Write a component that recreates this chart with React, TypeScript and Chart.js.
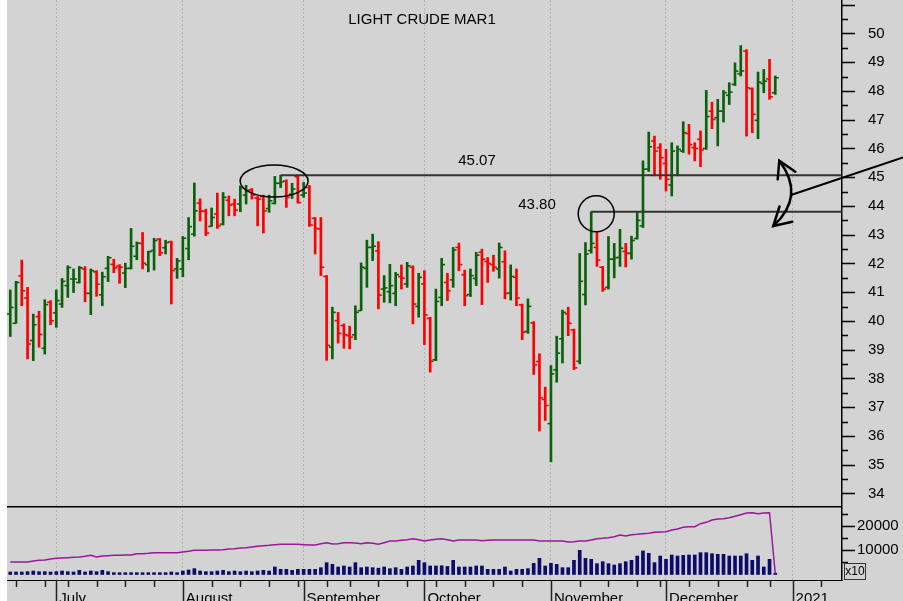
import React, { useEffect, useRef } from 'react';
import { Chart, registerables } from 'chart.js';

Chart.register(...registerables);

// ---------- data (trading-day index 0 = 19 Jun 2020 ... 133 = 29 Dec 2020) ----------
const opens = [
  40.24, 39.92, 41.57, 40.80, 39.32, 40.15, 39.05, 40.65, 40.28, 40.59,
  41.23, 41.46, 41.34, 41.81, 40.96, 41.71, 40.91, 41.83, 41.97, 41.91,
  41.67, 41.83, 42.25, 42.70, 41.96, 42.45, 42.85, 42.55, 42.75, 41.81,
  41.81, 42.52, 43.02, 44.10, 43.82, 43.29, 43.72, 43.37, 44.20, 44.07,
  44.07, 44.38, 44.56, 44.28, 44.33, 43.91, 44.09, 44.79, 44.87, 44.41,
  45.02, 44.38, 44.64, 43.57, 43.20, 41.55, 39.09, 40.01, 39.84, 39.49,
  39.52, 40.36, 41.83, 42.56, 42.44, 41.11, 41.02, 40.96, 41.54, 41.29,
  41.87, 40.51, 41.29, 40.09, 38.65, 40.82, 41.34, 41.43, 42.56, 41.61,
  40.92, 41.48, 42.39, 42.07, 41.96, 41.81, 42.06, 40.97, 41.52, 40.56,
  39.64, 39.93, 38.59, 37.27, 36.43, 38.30, 39.38, 40.25, 39.69, 38.60,
  40.92, 42.45, 42.56, 41.87, 41.17, 42.15, 42.21, 42.42, 42.35, 42.87,
  43.31, 45.28, 46.26, 46.03, 45.48, 44.73, 45.07, 45.91, 46.52, 46.03,
  46.32, 46.00, 47.30, 47.07, 47.30, 47.85, 48.23, 48.60, 49.39, 48.08,
  46.98, 48.26, 48.42, 47.94,
];
const highs = [
  41.08, 41.38, 42.12, 41.17, 40.24, 40.34, 40.74, 40.71, 41.08, 41.48,
  41.92, 41.81, 41.90, 41.89, 41.81, 41.75, 41.70, 42.25, 42.15, 41.96,
  42.01, 43.22, 42.75, 43.08, 42.43, 42.88, 42.87, 42.81, 42.78, 42.18,
  42.94, 43.60, 44.80, 44.25, 43.89, 43.93, 44.45, 44.47, 44.35, 44.24,
  44.70, 44.72, 44.61, 44.33, 44.38, 44.38, 45.03, 45.07, 44.91, 44.79,
  45.04, 44.82, 44.72, 43.60, 43.60, 41.58, 40.48, 40.30, 39.90, 39.82,
  40.53, 42.02, 42.81, 43.02, 42.76, 41.58, 41.97, 41.69, 41.95, 42.04,
  41.92, 41.66, 41.75, 40.13, 41.11, 42.18, 41.66, 42.56, 42.71, 41.77,
  41.81, 42.39, 42.50, 42.21, 42.29, 42.71, 42.44, 41.95, 41.81, 40.59,
  40.77, 39.98, 38.86, 37.70, 38.45, 39.47, 40.38, 40.48, 39.72, 42.35,
  42.73, 43.80, 43.08, 41.90, 42.94, 42.70, 43.19, 42.70, 42.95, 43.81,
  45.57, 46.57, 46.43, 46.17, 45.97, 46.20, 46.09, 46.93, 46.84, 46.20,
  46.61, 48.02, 47.61, 47.71, 48.02, 48.29, 48.98, 49.58, 49.44, 48.11,
  48.66, 48.75, 49.10, 48.52,
];
const lows = [
  39.46, 39.92, 40.53, 38.68, 38.62, 39.09, 38.85, 39.87, 39.78, 40.47,
  40.82, 40.99, 41.32, 40.67, 40.22, 40.86, 40.53, 41.37, 41.68, 41.31,
  41.16, 41.81, 42.13, 41.81, 41.71, 41.77, 42.27, 42.33, 40.59, 41.48,
  41.54, 42.13, 42.95, 43.48, 42.97, 43.29, 43.22, 43.34, 43.66, 43.66,
  43.80, 44.07, 44.24, 43.31, 43.06, 43.78, 44.07, 44.64, 43.95, 44.26,
  44.10, 44.30, 43.29, 42.33, 41.58, 38.63, 38.68, 39.23, 39.05, 39.03,
  39.35, 40.36, 41.17, 42.10, 40.42, 40.65, 40.63, 40.53, 41.11, 41.17,
  39.90, 40.13, 39.18, 38.22, 38.62, 40.53, 40.71, 41.17, 41.75, 40.53,
  40.85, 41.23, 40.57, 41.34, 41.73, 41.49, 40.77, 40.73, 40.53, 39.35,
  39.57, 38.14, 36.17, 36.54, 35.10, 37.87, 38.54, 39.49, 38.31, 38.51,
  40.56, 42.36, 41.90, 41.03, 41.11, 41.50, 41.90, 41.88, 42.15, 42.85,
  43.25, 45.20, 45.05, 44.93, 44.52, 44.35, 45.05, 45.86, 45.80, 45.57,
  45.37, 45.97, 46.69, 46.09, 46.92, 47.53, 48.19, 48.52, 46.43, 46.55,
  46.34, 47.94, 47.71, 47.88,
];
const closes = [
  40.47, 41.34, 41.05, 39.20, 39.87, 39.53, 40.57, 40.01, 40.71, 41.38,
  41.86, 41.46, 41.85, 40.96, 41.75, 41.28, 41.54, 42.20, 41.85, 41.87,
  41.83, 42.60, 42.71, 42.01, 42.41, 42.80, 42.37, 42.73, 41.75, 42.09,
  42.88, 43.28, 43.83, 43.82, 43.06, 43.60, 43.31, 44.30, 44.03, 43.86,
  44.64, 44.53, 44.38, 44.24, 43.83, 44.18, 44.79, 44.84, 44.30, 44.59,
  44.12, 44.45, 43.34, 43.22, 41.87, 39.15, 40.30, 39.57, 39.52, 39.44,
  40.30, 41.87, 42.56, 42.60, 40.90, 41.15, 41.23, 41.61, 41.49, 41.92,
  40.59, 41.52, 40.21, 38.60, 40.68, 41.96, 41.05, 42.47, 41.96, 40.88,
  41.58, 42.29, 42.15, 42.00, 41.87, 42.56, 40.96, 41.55, 40.80, 39.61,
  40.51, 38.47, 37.33, 37.06, 38.16, 38.88, 40.30, 39.92, 38.37, 41.38,
  42.33, 42.70, 42.12, 41.11, 42.15, 42.20, 42.53, 42.36, 42.80, 43.50,
  45.28, 46.06, 45.91, 45.68, 44.93, 45.91, 45.97, 46.55, 46.14, 46.00,
  45.95, 47.11, 47.01, 47.30, 47.94, 47.96, 48.69, 48.70, 48.11, 47.19,
  48.31, 48.34, 47.80, 48.46,
];
const volumes = [
  1030, 1030, 1030, 1165, 1440, 1165, 1165, 1030, 1165, 1440,
  1165, 1030, 1715, 1030, 1440, 1165, 1715, 1165, 750, 750,
  750, 750, 750, 750, 750, 750, 750, 750, 1030, 750,
  1440, 1850, 2400, 1440, 1165, 1165, 1440, 1715, 1165, 1440,
  1165, 1440, 1165, 1440, 1715, 1440, 3085, 2125, 2125, 1715,
  2125, 2125, 2125, 2125, 2810, 4870, 4180, 3085, 3500, 3085,
  4870, 2810, 3085, 2810, 2600, 3085, 2400, 2810, 2125, 3085,
  3500, 5830, 4870, 3500, 3500, 3600, 3300, 5830, 3085, 3085,
  3085, 3500, 3500, 2125, 2125, 2125, 3085, 1440, 2125, 2125,
  2400, 4600, 6650, 3500, 4600, 4180, 2810, 2810, 5830, 9945,
  6650, 6240, 4460, 5280, 4460, 3900, 4460, 5280, 5830, 7610,
  9670, 8710, 4870, 7610, 6240, 8025, 7610, 7890, 8025, 8025,
  8985, 8985, 8570, 8300, 8300, 7610, 7610, 7610, 8570, 5830,
  7610, 3085, 6240, 500,
];
const openInterest = [
  5140, 5140, 5140, 5140, 5555, 5830, 5970, 6380, 6650, 6790,
  6930, 7070, 7200, 7475, 7890, 7200, 7610, 7750, 7890, 7890,
  8025, 8025, 8570, 8570, 8710, 8985, 8985, 8985, 8985, 8985,
  9260, 9530, 9945, 9945, 9945, 10080, 10080, 10220, 10490, 10630,
  10900, 11040, 11310, 11590, 11860, 12000, 12280, 12415, 12415, 12415,
  12415, 12280, 12140, 12140, 12690, 13100, 12550, 12690, 13100, 13100,
  12960, 12690, 13100, 12830, 12415, 13100, 13785, 13785, 14060, 14330,
  14745, 14330, 13785, 14200, 14470, 14745, 14330, 13785, 14200, 14200,
  14200, 14200, 13920, 14060, 14200, 14200, 14200, 14200, 14200, 14200,
  14200, 14200, 13785, 13785, 13785, 13785, 13785, 13370, 13510, 13785,
  13785, 14200, 14745, 14880, 15155, 15570, 16255, 15840, 16390, 16530,
  16800, 16940, 17350, 17490, 17625, 18320, 18730, 19410, 19680, 19680,
  20915, 21460, 22420, 22840, 22975, 23390, 23940, 24620, 25300, 25445,
  25030, 25300, 25445, 330,
];

const monthTickIdx = [8, 30, 51, 72, 94, 114, 136];
const monthLabels = ['July', 'August', 'September', 'October', 'November', 'December', '2021'];
const weekTickIdx = [1, 6, 10, 15, 20, 25, 30, 35, 40, 45, 50, 55, 59, 64, 69, 74, 79, 84, 89, 94, 99, 104, 109, 113, 118, 123, 128, 132, 136, 141];
const priceTicks = [34, 35, 36, 37, 38, 39, 40, 41, 42, 43, 44, 45, 46, 47, 48, 49, 50];
const priceMajorMarks = [34, 35, 36, 37, 38, 39, 40, 41, 42, 43, 44, 45, 46, 47, 48, 49, 50, 51];
const priceMinorMarks = [34.5, 35.5, 36.5, 37.5, 38.5, 39.5, 40.5, 41.5, 42.5, 43.5, 44.5, 45.5, 46.5, 47.5, 48.5, 49.5, 50.5];
const volumeTicks = [10000, 20000];
const volumeMinorMarks = [5000, 15000, 25000];

const titleText = 'LIGHT CRUDE MAR1';
const markedHigh = 45.07;
const markedHighIdx = 47;
const markedLow = 43.8;
const markedLowIdx = 101;

// ---------- styling ----------
const X_MIN = -0.57;
const X_MAX = 144.6;
const PRICE_MIN = 33.565;
const PRICE_MAX = 51.165;
const VOL_MIN = -2263;
const VOL_MAX = 28190;

const BG = '#d3d3d3';
const UP = '#0b610b';
const DOWN = '#ff0000';
const VOL_COLOR = '#0b0b6b';
const OI_COLOR = '#9b179b';
const GRID = '#b2b2b2';
const FONT = "'Liberation Sans', Arial, Helvetica, sans-serif";

const W = 903;
const H = 601;
const PRICE_H = 506;
const VOL_H = 95;
const LEFT = 7;
const AXIS_W = 61;

Chart.defaults.font.family = FONT;
Chart.defaults.color = '#000';

function fitY(s: any) {
  s.width = AXIS_W;
  s.paddingTop = 0;
  s.paddingBottom = 0;
}

const pricePlugin = {
  id: 'priceDeco',
  beforeDraw(chart: any) {
    const { ctx, width, height } = chart;
    ctx.save();
    ctx.fillStyle = BG;
    ctx.fillRect(LEFT, 0, width - LEFT, height);
    ctx.restore();
  },
  afterDraw(chart: any) {
    const { ctx, chartArea } = chart;
    const xs = chart.scales.x;
    const ys = chart.scales.y;
    const r = chartArea.right;
    ctx.save();
    // right axis tick marks
    ctx.strokeStyle = '#000';
    ctx.lineWidth = 1.5;
    ctx.beginPath();
    priceMajorMarks.forEach((v) => {
      const y = Math.round(ys.getPixelForValue(v)) + 0.5;
      ctx.moveTo(r, y);
      ctx.lineTo(r + 13, y);
    });
    priceMinorMarks.forEach((v) => {
      const y = Math.round(ys.getPixelForValue(v)) + 0.5;
      ctx.moveTo(r, y);
      ctx.lineTo(r + 6, y);
    });
    ctx.stroke();

    // title
    ctx.fillStyle = '#000';
    ctx.font = `15px ${FONT}`;
    ctx.textAlign = 'center';
    ctx.textBaseline = 'middle';
    ctx.fillText(titleText, 422, 20);

    // horizontal reference lines
    const yHi = ys.getPixelForValue(markedHigh);
    const yLo = ys.getPixelForValue(markedLow);
    const xHi = xs.getPixelForValue(markedHighIdx);
    const xLo = xs.getPixelForValue(markedLowIdx);
    ctx.strokeStyle = '#333';
    ctx.lineWidth = 2;
    ctx.beginPath();
    ctx.moveTo(xHi, yHi);
    ctx.lineTo(r, yHi);
    ctx.moveTo(xLo, yLo);
    ctx.lineTo(r, yLo);
    ctx.stroke();

    // labels
    ctx.fillStyle = '#000';
    ctx.fillText(markedHigh.toFixed(2), 477, 160.5);
    ctx.fillText(markedLow.toFixed(2), 537, 204.5);

    // ellipse & circle
    ctx.strokeStyle = '#000';
    ctx.lineWidth = 1.5;
    ctx.beginPath();
    ctx.ellipse(xHi - 6.5, yHi + 5.8, 34, 16, 0, 0, Math.PI * 2);
    ctx.stroke();
    ctx.beginPath();
    ctx.arc(xLo + 5, yLo + 2, 18, 0, Math.PI * 2);
    ctx.stroke();

    // curved double arrow and pointer line
    ctx.lineWidth = 2.5;
    ctx.lineCap = 'round';
    ctx.beginPath();
    ctx.moveTo(779.3, 160.7);
    ctx.quadraticCurveTo(806, 196, 773.3, 226);
    ctx.stroke();
    ctx.beginPath();
    ctx.moveTo(777.7, 179.3);
    ctx.lineTo(779.3, 160.7);
    ctx.lineTo(795.3, 171.7);
    ctx.moveTo(779.5, 206.5);
    ctx.lineTo(773.3, 226);
    ctx.lineTo(792.3, 221.7);
    ctx.stroke();
    ctx.lineWidth = 2;
    ctx.beginPath();
    ctx.moveTo(791, 195);
    ctx.lineTo(903, 157.5);
    ctx.stroke();
    ctx.restore();
  },
};

const volPlugin = {
  id: 'volDeco',
  beforeDraw(chart: any) {
    const { ctx, width, height } = chart;
    ctx.save();
    ctx.fillStyle = BG;
    ctx.fillRect(LEFT, 0, width - LEFT, height);
    ctx.restore();
  },
  afterDraw(chart: any) {
    const { ctx, chartArea } = chart;
    const xs = chart.scales.x;
    const ys = chart.scales.y;
    const r = chartArea.right;
    const b = chartArea.bottom;
    ctx.save();
    // panel separator
    ctx.strokeStyle = '#000';
    ctx.lineWidth = 1.5;
    ctx.beginPath();
    ctx.moveTo(chartArea.left, 0.75);
    ctx.lineTo(r, 0.75);
    ctx.stroke();
    // y tick marks
    ctx.beginPath();
    volumeTicks.forEach((v) => {
      const y = Math.round(ys.getPixelForValue(v)) + 0.5;
      ctx.moveTo(r, y);
      ctx.lineTo(r + 13, y);
    });
    volumeMinorMarks.forEach((v) => {
      const y = Math.round(ys.getPixelForValue(v)) + 0.5;
      ctx.moveTo(r, y);
      ctx.lineTo(r + 6, y);
    });
    ctx.stroke();
    // x tick marks
    ctx.strokeStyle = '#222';
    ctx.lineWidth = 1.5;
    ctx.beginPath();
    weekTickIdx.forEach((i) => {
      const x = Math.round(xs.getPixelForValue(i)) + 0.5;
      ctx.moveTo(x, b);
      ctx.lineTo(x, b + 7);
    });
    monthTickIdx.forEach((i) => {
      const x = Math.round(xs.getPixelForValue(i)) + 0.5;
      ctx.moveTo(x, b);
      ctx.lineTo(x, chart.height);
    });
    ctx.stroke();
    // x10 box
    ctx.strokeStyle = '#333';
    ctx.lineWidth = 1;
    ctx.strokeRect(844.5, 57.5, 21, 16);
    ctx.fillStyle = '#000';
    ctx.font = `12px ${FONT}`;
    ctx.textAlign = 'center';
    ctx.textBaseline = 'middle';
    ctx.fillText('x10', 855, 66);
    ctx.restore();
  },
};

export default function App() {
  const priceRef = useRef<HTMLCanvasElement>(null);
  const volRef = useRef<HTMLCanvasElement>(null);

  useEffect(() => {
    document.body.style.margin = '0';
    const idx = opens.map((_, i) => i);
    const colors = idx.map((i) => (closes[i] >= opens[i] ? UP : DOWN));

    const xBase: any = {
      type: 'linear',
      min: X_MIN,
      max: X_MAX,
      offset: false,
      afterBuildTicks: (s: any) => {
        s.ticks = monthTickIdx.map((v) => ({ value: v }));
      },
    };

    const priceChart = new Chart(priceRef.current as HTMLCanvasElement, {
      type: 'bar',
      data: {
        datasets: [
          {
            type: 'line',
            label: 'Open',
            data: idx.map((i) => ({ x: i, y: opens[i] })),
            showLine: false,
            pointStyle: 'dash',
            pointRotation: 180,
            pointRadius: 3.4,
            pointBorderWidth: 1.6,
            pointBorderColor: colors,
            pointBackgroundColor: colors,
            order: 0,
          } as any,
          {
            type: 'line',
            label: 'Close',
            data: idx.map((i) => ({ x: i, y: closes[i] })),
            showLine: false,
            pointStyle: 'dash',
            pointRotation: 0,
            pointRadius: 3.4,
            pointBorderWidth: 1.6,
            pointBorderColor: colors,
            pointBackgroundColor: colors,
            order: 0,
          } as any,
          {
            type: 'bar',
            label: 'Range',
            data: idx.map((i) => ({ x: i, y: [lows[i], highs[i]] })),
            backgroundColor: colors,
            borderWidth: 0,
            barThickness: 2,
            order: 1,
          } as any,
        ],
      },
      options: {
        responsive: false,
        animation: false,
        devicePixelRatio: 1,
        events: [],
        layout: { autoPadding: false, padding: { left: LEFT, top: 0, right: 0, bottom: 0 } },
        plugins: { legend: { display: false }, tooltip: { enabled: false }, title: { display: false } },
        scales: {
          x: {
            ...xBase,
            afterFit: (s: any) => {
              s.height = 0;
              s.paddingLeft = 0;
              s.paddingRight = 0;
            },
            ticks: { display: false },
            grid: { display: true, drawOnChartArea: true, drawTicks: false, color: GRID, lineWidth: 1, offset: false },
            border: { display: false, dash: [2, 2] },
          },
          y: {
            type: 'linear',
            position: 'right',
            min: PRICE_MIN,
            max: PRICE_MAX,
            afterBuildTicks: (s: any) => {
              s.ticks = priceTicks.map((v) => ({ value: v }));
            },
            afterFit: fitY,
            ticks: {
              padding: 26,
              crossAlign: 'near',
              color: '#000',
              font: { size: 15, family: FONT },
              callback: (v: any) => String(v),
            },
            grid: { display: false, drawTicks: false },
            border: { display: true, color: '#000', width: 1.5 },
          },
        } as any,
      },
      plugins: [pricePlugin],
    } as any);

    const volChart = new Chart(volRef.current as HTMLCanvasElement, {
      type: 'bar',
      data: {
        datasets: [
          {
            type: 'line',
            label: 'Open interest',
            data: idx.map((i) => ({ x: i, y: openInterest[i] })),
            borderColor: OI_COLOR,
            borderWidth: 1.5,
            pointRadius: 0,
            fill: false,
            tension: 0,
            order: 0,
          } as any,
          {
            type: 'bar',
            label: 'Volume',
            data: idx.map((i) => ({ x: i, y: volumes[i] })),
            backgroundColor: VOL_COLOR,
            borderWidth: 0,
            barThickness: 3,
            order: 1,
          } as any,
        ],
      },
      options: {
        responsive: false,
        animation: false,
        devicePixelRatio: 1,
        events: [],
        layout: { autoPadding: false, padding: { left: LEFT, top: 0, right: 0, bottom: 0 } },
        plugins: { legend: { display: false }, tooltip: { enabled: false }, title: { display: false } },
        scales: {
          x: {
            ...xBase,
            afterFit: (s: any) => {
              s.height = 21;
              s.paddingLeft = 0;
              s.paddingRight = 0;
            },
            ticks: {
              display: true,
              autoSkip: false,
              maxRotation: 0,
              minRotation: 0,
              align: 'start',
              labelOffset: 3,
              padding: 10,
              color: '#000',
              font: { size: 15, family: FONT },
              callback: (_v: any, index: number) => monthLabels[index] ?? '',
            },
            grid: { display: true, drawOnChartArea: true, drawTicks: false, color: GRID, lineWidth: 1, offset: false },
            border: { display: true, color: '#000', width: 1, dash: [2, 2] },
          },
          y: {
            type: 'linear',
            position: 'right',
            min: VOL_MIN,
            max: VOL_MAX,
            afterBuildTicks: (s: any) => {
              s.ticks = volumeTicks.map((v) => ({ value: v }));
            },
            afterFit: fitY,
            ticks: {
              padding: 15,
              crossAlign: 'near',
              color: '#000',
              font: { size: 15, family: FONT },
              callback: (v: any) => String(v),
            },
            grid: { display: false, drawTicks: false },
            border: { display: true, color: '#000', width: 1.5 },
          },
        } as any,
      },
      plugins: [volPlugin],
    } as any);

    return () => {
      priceChart.destroy();
      volChart.destroy();
    };
  }, []);

  return (
    <div style={{ position: 'relative', width: W, height: H, background: '#fff', overflow: 'hidden' }}>
      <canvas
        ref={priceRef}
        width={W}
        height={PRICE_H}
        style={{ position: 'absolute', left: 0, top: 0, display: 'block' }}
      />
      <canvas
        ref={volRef}
        width={W}
        height={VOL_H}
        style={{ position: 'absolute', left: 0, top: PRICE_H, display: 'block' }}
      />
    </div>
  );
}
